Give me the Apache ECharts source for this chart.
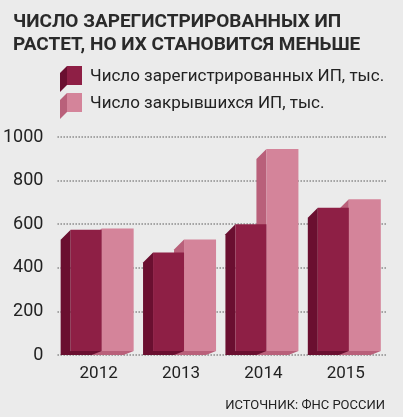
<!DOCTYPE html>
<html><head><meta charset="utf-8">
<script src="https://cdn.jsdelivr.net/npm/echarts@6/dist/echarts.min.js"></script>
<style>html,body{margin:0;background:#ebebeb}#c{width:403px;height:417px}</style>
</head><body><div id="c"></div>
<script>
const categories = ['2012','2013','2014','2015'];
const registered = [575, 470, 600, 675];
const closed = [580, 530, 945, 715];
const yTicks = [0,200,400,600,800,1000];
const seriesNames = ['Число зарегистрированных ИП, тыс.','Число закрывшихся ИП, тыс.'];

const chart = echarts.init(document.getElementById('c'));
function bar3d(front, side, off, w) {
  return function (params, api) {
    const c = api.coord([api.value(0), api.value(1)]);
    const z = api.coord([api.value(0), 0]);
    const x0 = c[0] + off, x1 = x0 + w, d = 10;
    const top = c[1], bot = z[1] - 4;
    return {type:'group', children:[
      {type:'polygon', shape:{points:[[x0,top],[x0-d,top+d],[x0-d,bot+4],[x0,bot+4]]}, style:{fill:side}},
      {type:'polygon', shape:{points:[[x0,bot],[x1,bot],[x1-d,bot+4],[x0-d,bot+4]]}, style:{fill:side}},
      {type:'rect', shape:{x:x0, y:top, width:w, height:bot-top}, style:{fill:front}}
    ]};
  };
}
const legendIcon = (y, front, side) => [
  {type:'polygon', left:60, top:y, shape:{points:[[7,0],[7,19],[0,26],[0,7]]}, style:{fill:side}},
  {type:'rect', left:67, top:y, shape:{width:15,height:19}, style:{fill:front}}
];
chart.setOption({
  animation:false,
  backgroundColor:'#ebebeb',
  title:{text:'ЧИСЛО ЗАРЕГИСТРИРОВАННЫХ ИП\nРАСТЕТ, НО ИХ СТАНОВИТСЯ МЕНЬШЕ', left:8, top:6,
    textStyle:{fontFamily:'Roboto', fontWeight:'bold', fontSize:19, lineHeight:23, color:'#2a2a2a'}},
  graphic:[
    ...legendIcon(66,'#8e1f45','#6a0f30'),
    ...legendIcon(93,'#d4849a','#b9607a'),
    {type:'text', left:90, top:68, style:{text:seriesNames[0], font:'17px Roboto', fill:'#222'}},
    {type:'text', left:90, top:95, style:{text:seriesNames[1], font:'17px Roboto', fill:'#222'}},
    {type:'text', right:18, top:399, style:{text:'ИСТОЧНИК: ФНС РОССИИ', font:'13px Roboto', fill:'#222'}}
  ],
  grid:{left:54, right:16, top:137, bottom:62},
  xAxis:{type:'category', data:categories, axisLine:{show:false}, axisTick:{show:false},
    axisLabel:{fontFamily:'Roboto', fontSize:17, color:'#222', margin:10}},
  yAxis:{type:'value', min:0, max:1000, interval:200,
    axisLabel:{fontFamily:'Roboto', fontSize:18, color:'#222', margin:14, formatter:v=>yTicks.includes(v)?String(v):''},
    splitLine:{lineStyle:{type:'dotted', color:'#888', width:1.5}}},
  series:[
    {type:'custom', name:seriesNames[0], data:registered.map((v,i)=>[i,v]), renderItem:bar3d('#8e1f45','#6a0f30',-28,31), z:3},
    {type:'custom', name:seriesNames[1], data:closed.map((v,i)=>[i,v]), renderItem:bar3d('#d4849a','#b9607a',3,32), z:2}
  ]
});
</script></body></html>
